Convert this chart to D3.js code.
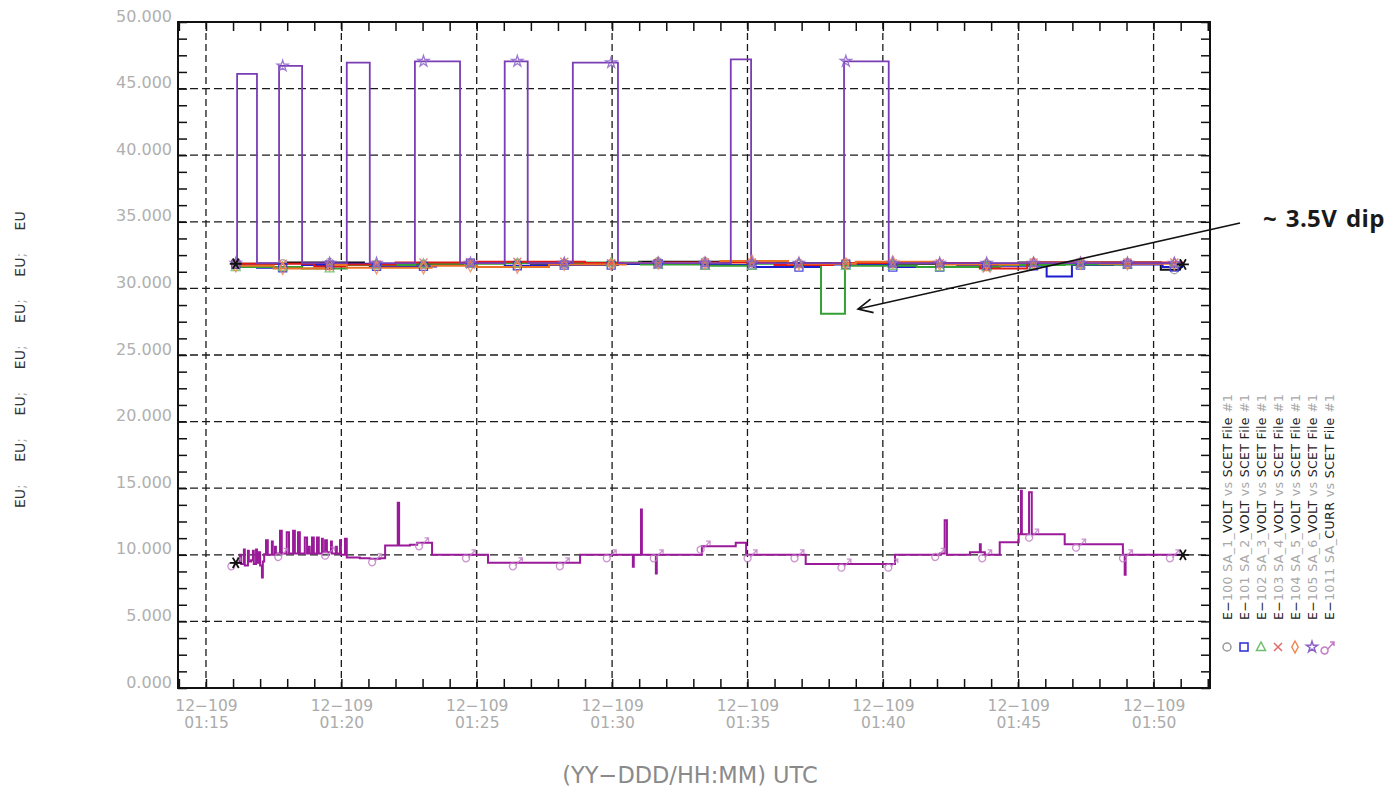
<!DOCTYPE html>
<html lang="en">
<head>
<meta charset="utf-8">
<script src="https://d3js.org/d3.v7.min.js"></script>
<style>
  body { margin: 0; background: #fff; }
  #plot { position: absolute; left: 0; top: 0; width: 1394px; height: 793px; }
</style>
</head>
<body>
<div id="plot"></div>
<script>
// ---- values ----
const xStart = "01:13:58", xEnd = "01:52:05";
const xMajor = ["01:15:00","01:20:00","01:25:00","01:30:00","01:35:00","01:40:00","01:45:00","01:50:00"];
const dayLabel = "12\u2212109";
const yMajor = [0, 5, 10, 15, 20, 25, 30, 35, 40, 45, 50];
const yUnits = ["EU", "EU", "EU", "EU", "EU", "EU", "EU"];

const legendNames = [
  "E\u2212100 SA_1_VOLT vs SCET File #1",
  "E\u2212101 SA_2_VOLT vs SCET File #1",
  "E\u2212102 SA_3_VOLT vs SCET File #1",
  "E\u2212103 SA_4_VOLT vs SCET File #1",
  "E\u2212104 SA_5_VOLT vs SCET File #1",
  "E\u2212105 SA_6_VOLT vs SCET File #1",
  "E\u22121011 SA_CURR vs SCET File #1"
];
const colors = ["#111111", "#1c1cd0", "#35a035", "#e01818", "#ea7328", "#7a3db5", "#9a1a9a"];
const markerColors = ["#9a9a9a", "#2a2ad8", "#6cbf6c", "#e06a6a", "#ee8a55", "#8c62c8", "#c27ec6"];

const sa1Volt = [["01:16:06",31.85],["01:18:00",31.95],["01:20:50",31.8],["01:24:30",31.9],["01:27:00",31.85],["01:31:00",32.0],["01:35:00",31.9],["01:40:00",31.85],["01:45:00",31.95],["01:50:16",31.4],["01:50:58",31.8],["01:51:05",31.8]];
const sa2Volt = [["01:16:06",31.8],["01:16:53",31.55],["01:18:33",31.75],["01:20:12",31.85],["01:21:03",31.65],["01:23:30",31.9],["01:26:02",31.7],["01:27:40",31.75],["01:30:13",31.85],["01:33:19",31.75],["01:35:14",31.6],["01:37:43",31.8],["01:40:13",31.6],["01:42:45",31.7],["01:46:03",30.9],["01:46:59",31.75],["01:48:30",31.8],["01:50:20",31.6],["01:51:05",31.6]];
const sa3Volt = [["01:16:06",31.6],["01:18:33",31.5],["01:20:12",31.75],["01:22:43",31.85],["01:26:02",31.9],["01:28:33",31.95],["01:31:04",31.8],["01:33:19",31.7],["01:35:14",31.85],["01:37:43",28.1],["01:38:36",31.7],["01:41:15",31.6],["01:44:19",31.75],["01:46:43",31.8],["01:49:10",31.9],["01:51:05",31.9]];
const sa4Volt = [["01:16:06",31.85],["01:19:00",31.65],["01:20:12",31.8],["01:22:00",31.95],["01:25:00",32.0],["01:29:00",31.9],["01:32:00",31.95],["01:36:00",31.75],["01:38:10",31.9],["01:43:35",31.5],["01:45:20",31.95],["01:51:05",31.95]];
const sa5Volt = [["01:16:06",31.7],["01:17:30",31.5],["01:19:30",31.75],["01:20:12",31.55],["01:23:20",31.7],["01:25:00",31.6],["01:27:40",31.8],["01:30:30",31.9],["01:34:00",32.05],["01:36:30",31.85],["01:39:00",32.0],["01:42:00",31.8],["01:45:00",31.9],["01:48:00",31.85],["01:51:05",31.85]];
const sa6Volt = [["01:16:06",31.9],["01:16:09",46.1],["01:16:53",31.9],["01:17:42",46.7],["01:18:33",31.9],["01:20:12",46.95],["01:21:03",31.9],["01:22:43",47.05],["01:24:23",31.9],["01:26:02",47.05],["01:26:53",31.9],["01:28:33",46.95],["01:30:13",31.9],["01:34:23",47.2],["01:35:08",31.9],["01:38:34",47.05],["01:40:13",31.9],["01:51:05",31.9]];
const saCurr = [["01:16:06",9.4],["01:16:15",10.0],["01:16:18",9.3],["01:16:24",10.4],["01:16:26",9.2],["01:16:33",10.3],["01:16:35",9.5],["01:16:40",9.6],["01:16:44",10.3],["01:16:46",9.3],["01:16:51",10.4],["01:16:53",9.4],["01:16:57",10.2],["01:17:00",9.2],["01:17:04",8.3],["01:17:06",9.5],["01:17:09",10.05],
  ["01:17:13",11.1],["01:17:17",10.0],["01:17:26",11.0],["01:17:28",10.0],["01:17:33",10.6],["01:17:35",10.1],["01:17:44",11.8],["01:17:48",10.1],["01:17:59",11.7],["01:18:04",10.1],["01:18:13",11.8],["01:18:17",10.1],["01:18:24",11.7],["01:18:28",10.1],["01:18:39",11.3],["01:18:44",10.1],["01:18:48",10.6],["01:18:50",10.1],["01:18:55",11.3],["01:18:59",10.1],["01:19:06",11.3],["01:19:10",10.1],["01:19:17",11.2],["01:19:19",10.2],["01:19:24",11.1],["01:19:28",10.2],["01:19:37",11.0],["01:19:39",10.1],["01:19:48",10.6],["01:19:50",10.1],["01:19:57",11.1],["01:19:59",10.0],["01:20:08",11.2],["01:20:12",9.8],
  ["01:20:41",9.75],["01:21:03",9.7],["01:21:26",9.75],["01:21:37",10.7],["01:22:05",13.9],["01:22:08",10.7],["01:22:32",10.75],["01:22:48",10.9],["01:23:21",10.0],["01:25:25",9.4],["01:28:49",10.0],["01:30:46",9.1],["01:30:48",10.0],["01:31:04",13.4],["01:31:06",10.0],["01:31:37",8.6],["01:31:39",10.0],["01:33:19",10.65],["01:34:34",10.9],["01:34:57",10.0],["01:37:09",9.3],["01:40:27",10.0],["01:42:06",10.1],["01:42:17",12.6],["01:42:22",10.0],["01:43:13",10.2],["01:43:35",10.8],["01:43:37",10.2],["01:43:46",10.0],["01:44:19",10.95],["01:45:01",11.55],["01:45:06",14.8],["01:45:08",11.55],["01:45:24",14.7],["01:45:30",11.55],["01:46:43",10.8],["01:48:52",10.0],["01:48:56",8.5],["01:48:58",10.0],["01:51:05",10.0]];

const markerTimes = ["01:16:06","01:17:50","01:19:34","01:21:18","01:23:02","01:24:46","01:26:30","01:28:14","01:29:58","01:31:42","01:33:26","01:35:10","01:36:54","01:38:38","01:40:22","01:42:06","01:43:50","01:45:34","01:47:18","01:49:02","01:50:46"];

const dipNote = "~ 3.5V dip";

// ---- plot ----
const FONT = "'DejaVu Sans', sans-serif";
const parseT = d3.timeParse("%H:%M:%S");
const W = 1394, H = 793;
const margin = {top: 22, right: 184, bottom: 105, left: 178};
const plotW = W - margin.left - margin.right;
const plotH = H - margin.top - margin.bottom;

const svg = d3.select("#plot").append("svg")
    .attr("width", W).attr("height", H)
    .attr("font-family", FONT);
svg.append("rect").attr("width", W).attr("height", H).attr("fill", "#fff");

const g = svg.append("g").attr("transform", `translate(${margin.left},${margin.top})`);

const x = d3.scaleTime().domain([parseT(xStart), parseT(xEnd)]).range([0, plotW]);
const y = d3.scaleLinear().domain([0, 50]).range([plotH, 0]);

const xMajorT = xMajor.map(parseT);
const xMinorT = d3.timeMinute.every(1).range(parseT(xStart), parseT(xEnd));
const yMinor = d3.range(0, 50.01, 1.25);

// grid
g.append("g").selectAll("line").data(yMajor.filter(v => v > 0 && v < 50)).join("line")
    .attr("x1", 0).attr("x2", plotW).attr("y1", d => y(d)).attr("y2", d => y(d))
    .attr("stroke", "#1a1a1a").attr("stroke-width", 1.3).attr("stroke-dasharray", "8,4");
g.append("g").selectAll("line").data(xMajorT).join("line")
    .attr("x1", d => x(d)).attr("x2", d => x(d)).attr("y1", 0).attr("y2", plotH)
    .attr("stroke", "#1a1a1a").attr("stroke-width", 1.3).attr("stroke-dasharray", "7,4");

// axes, ticks pointing inward
function styleAxis(sel) {
  sel.select(".domain").remove();
  sel.selectAll(".tick line").attr("stroke", "#111").attr("stroke-width", 1.5);
}
g.append("g").call(d3.axisLeft(y).tickValues(yMinor).tickSize(-9).tickFormat("")).call(styleAxis);
g.append("g").attr("transform", `translate(${plotW},0)`)
    .call(d3.axisRight(y).tickValues(yMinor).tickSize(-9).tickFormat("")).call(styleAxis);
g.append("g").call(d3.axisTop(x).tickValues(xMinorT).tickSize(-9).tickFormat("")).call(styleAxis);
g.append("g").attr("transform", `translate(0,${plotH})`)
    .call(d3.axisBottom(x).tickValues(xMinorT).tickSize(-9).tickFormat("")).call(styleAxis);

// y labels
const yAx = g.append("g").call(d3.axisLeft(y).tickValues(yMajor).tickSize(0).tickPadding(6).tickFormat(d3.format(".3f")));
yAx.select(".domain").remove();
yAx.attr("font-family", FONT);
yAx.selectAll("text").attr("font-size", 16).attr("font-family", FONT)
    .attr("fill", "#b0b0b0").attr("dy", "-1px");

// x labels (two lines, two text elements per tick)
const xAx = g.append("g").attr("transform", `translate(0,${plotH})`)
    .call(d3.axisBottom(x).tickValues(xMajorT).tickSize(0).tickFormat(""));
xAx.select(".domain").remove();
xAx.attr("font-family", FONT);
xAx.selectAll(".tick text").remove();
xAx.selectAll(".tick").each(function(d) {
  const tk = d3.select(this);
  tk.append("text").attr("y", 22.5).attr("text-anchor", "middle").attr("font-family", FONT)
      .attr("font-size", 15.5).attr("fill", "#ababab").text(dayLabel);
  tk.append("text").attr("y", 40).attr("text-anchor", "middle").attr("font-family", FONT)
      .attr("font-size", 15.5).attr("fill", "#ababab").text(d3.timeFormat("%H:%M")(d));
});

// frame
g.append("rect").attr("width", plotW).attr("height", plotH)
    .attr("fill", "none").attr("stroke", "#111").attr("stroke-width", 2);

// series
const allSeries = [sa1Volt, sa2Volt, sa3Volt, sa4Volt, sa5Volt, sa6Volt, saCurr]
    .map(s => s.map(([t, v]) => ({t: parseT(t), v})));
const line = d3.line().x(d => x(d.t)).y(d => y(d.v)).curve(d3.curveStepAfter);

allSeries.forEach((s, i) => {
  g.append("path").datum(s).attr("d", line)
      .attr("fill", "none").attr("stroke", colors[i])
      .attr("stroke-width", i === 5 ? 1.8 : 2);
});

// marker shapes
const symPaths = [
  d3.symbol(d3.symbolCircle, 50)(),
  "M-4,-4H4V4H-4Z",
  "M0,-5L4.5,3.5H-4.5Z",
  "M-4,-4L4,4M-4,4L4,-4",
  "M0,-6L3.2,0L0,6L-3.2,0Z",
  d3.symbol(d3.symbolStar, 38)(),
  "M-2,1A3.5,3.5 0 1 0 -1.9,1.1M-2,3L5,-5M1,-5H5V-1"
];
const stepValue = (s, t) => s[Math.max(0, d3.bisector(d => d.t).right(s, t) - 1)].v;
const mT = markerTimes.map(parseT);
allSeries.forEach((s, i) => {
  g.append("g").selectAll("path").data(mT).join("path")
      .attr("transform", t => `translate(${x(t)},${y(stepValue(s, t))})`)
      .attr("d", symPaths[i]).attr("fill", "none")
      .attr("stroke", markerColors[i]).attr("stroke-width", 1.3).attr("opacity", 0.85);
});

// black asterisks at start / end of the first and the current trace
const asterisk = "M-6,0H6M-3,-5.2L3,5.2M-3,5.2L3,-5.2";
[allSeries[0], allSeries[6]].forEach(s => {
  g.append("g").selectAll("path").data([s[0], s[s.length - 1]]).join("path")
      .attr("transform", d => `translate(${x(d.t)},${y(d.v)})`)
      .attr("d", asterisk).attr("stroke", "#111").attr("stroke-width", 1.8);
});

// legend (rotated)
legendNames.forEach((name, i) => {
  const lx = 1232 + i * 17;
  const t = svg.append("text")
      .attr("transform", `translate(${lx},620) rotate(-90)`)
      .attr("font-size", 12.5)
      .attr("textLength", 226).attr("lengthAdjust", "spacing");
  name.split(/(E\u2212|VOLT|CURR|SCET|File)/).filter(p => p).forEach(p => {
    t.append("tspan").text(p)
        .attr("fill", /^(E\u2212|VOLT|CURR|SCET|File)$/.test(p) ? "#222" : "#a8a8a8");
  });
  svg.append("path").attr("transform", `translate(${lx - 5},647)`)
      .attr("d", symPaths[i]).attr("fill", "none")
      .attr("stroke", markerColors[i]).attr("stroke-width", 1.5);
});

// y title: one rotated text, wide word spacing
const yt = svg.append("text")
    .attr("transform", "translate(25,508) rotate(-90)")
    .attr("font-size", 14).attr("word-spacing", "18px");
yUnits.forEach((u, i) => {
  yt.append("tspan").attr("fill", "#333").text(u);
  if (i < yUnits.length - 1) yt.append("tspan").attr("fill", "#aaa").text("; ");
});

// x title
svg.append("text").attr("x", 690).attr("y", 783).attr("text-anchor", "middle")
    .attr("font-size", 22.5).attr("fill", "#8a8a8a")
    .text("(YY\u2212DDD/HH:MM) UTC");

// annotation
svg.append("text").attr("x", 1263).attr("y", 227)
    .attr("font-family", "'Open Sans', sans-serif").attr("font-weight", "bold")
    .attr("font-size", 24).attr("letter-spacing", "0.4px").attr("word-spacing", "2px")
    .attr("fill", "#1a1a1a").text(dipNote);

const a0 = [1240, 223], a1 = [858, 309];
const ang = Math.atan2(a0[1] - a1[1], a0[0] - a1[0]);
svg.append("line").attr("x1", a0[0]).attr("y1", a0[1]).attr("x2", a1[0]).attr("y2", a1[1])
    .attr("stroke", "#111").attr("stroke-width", 1.6);
svg.append("path")
    .attr("d", `M${a1[0] + 16 * Math.cos(ang - 0.45)},${a1[1] + 16 * Math.sin(ang - 0.45)}L${a1[0]},${a1[1]}L${a1[0] + 16 * Math.cos(ang + 0.45)},${a1[1] + 16 * Math.sin(ang + 0.45)}`)
    .attr("fill", "none").attr("stroke", "#111").attr("stroke-width", 1.6);
</script>
</body>
</html>
